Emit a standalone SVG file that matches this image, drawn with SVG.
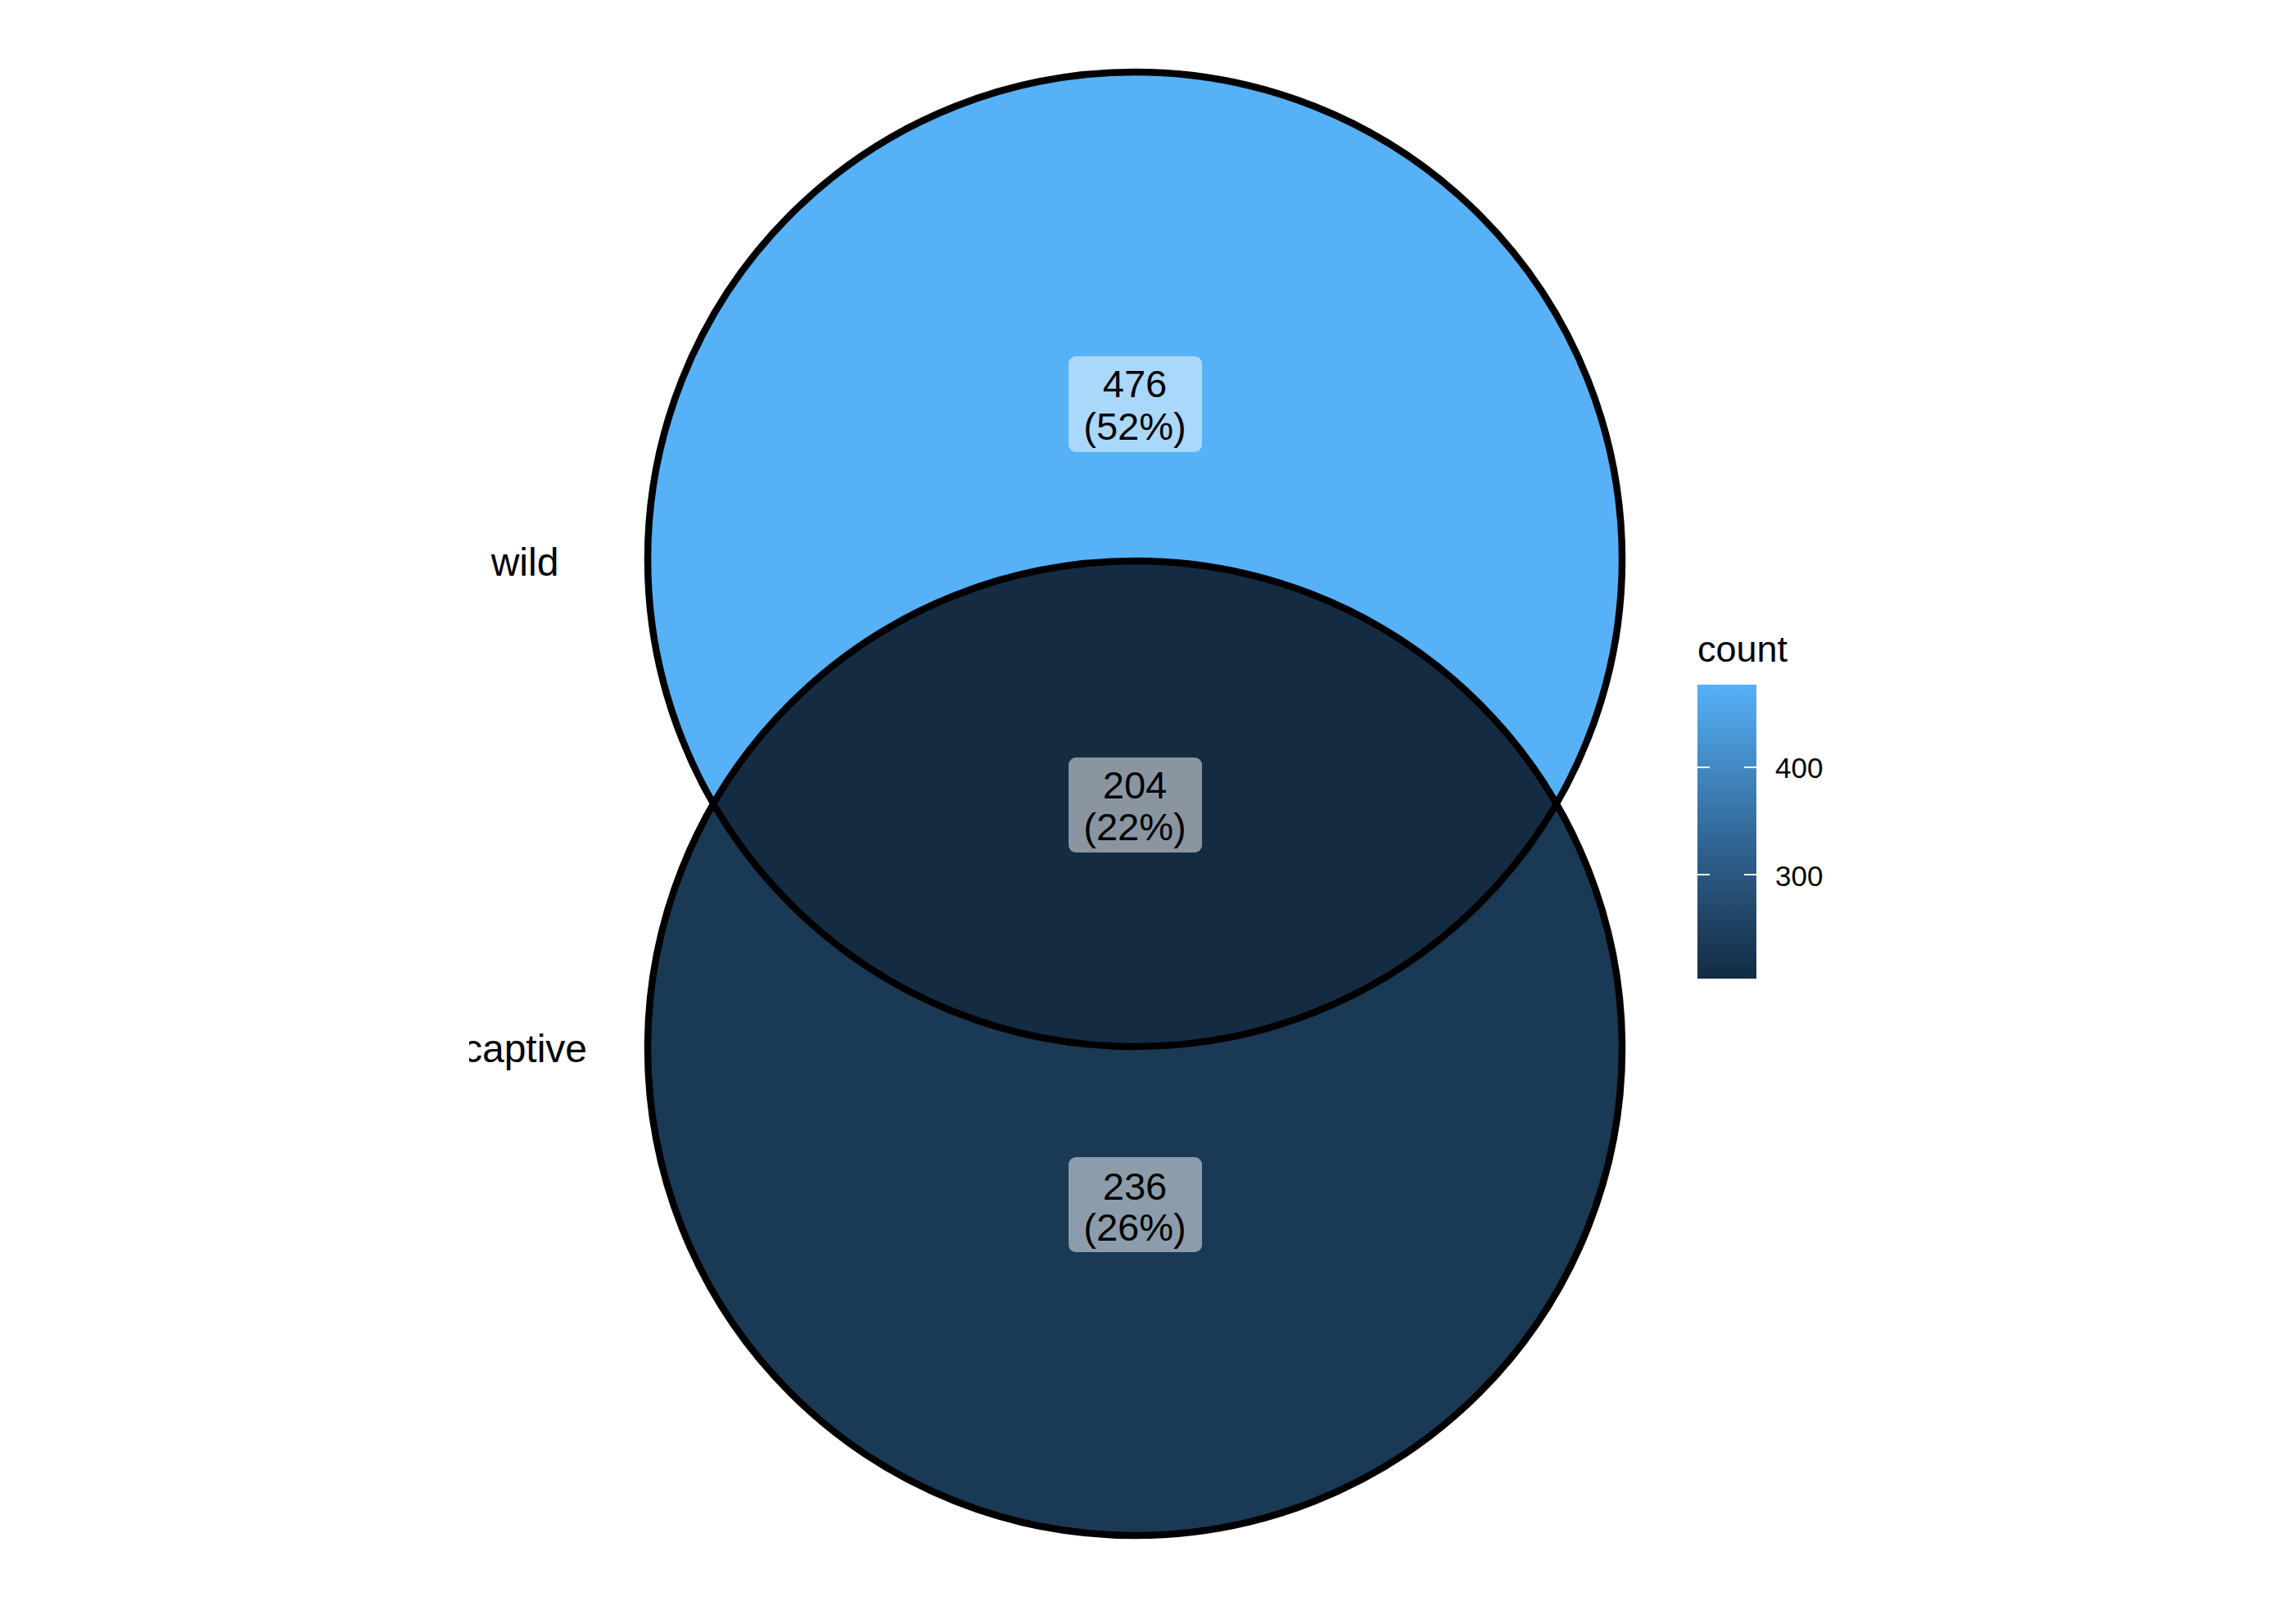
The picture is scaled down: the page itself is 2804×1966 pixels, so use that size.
<svg xmlns="http://www.w3.org/2000/svg" width="2804" height="1966" viewBox="0 0 2804 1966">
<style>
.lbl{font-family:"Liberation Sans",Arial,sans-serif;font-size:47px;fill:#000;text-anchor:middle}
.set{font-family:"Liberation Sans",Arial,sans-serif;font-size:48px;fill:#000;text-anchor:middle}
.leg{font-family:"Liberation Sans",Arial,sans-serif;fill:#000}
.ring{fill:none;stroke:#000;stroke-width:8.5}
.box{stroke:none}
.tick{stroke:#fff;stroke-width:2}
</style>
<defs>
<linearGradient id="cbar" x1="0" y1="0" x2="0" y2="1">
<stop offset="0" stop-color="#56B1F7"/>
<stop offset="0.5" stop-color="#336A9A"/>
<stop offset="1" stop-color="#132B43"/>
</linearGradient>
<clipPath id="panel"><rect x="573" y="0" width="2231" height="1966"/></clipPath>
</defs>
<rect width="2804" height="1966" fill="#fff"/>
<g id="fills">
<circle id="wild-fill" cx="1386" cy="683" r="595" fill="#56B1F7"/>
<circle id="captive-fill" cx="1386" cy="1280" r="595" fill="#1A3955"/>
<path id="overlap-fill" d="M 871.3 981.5 A 595 595 0 0 1 1900.7 981.5 A 595 595 0 0 1 871.3 981.5 Z" fill="#152B42"/>
</g>
<g id="connectors">
<circle class="ring" cx="1386" cy="683" r="595"/>
<circle class="ring" cx="1386" cy="1280" r="595"/>
</g>
<g id="wild-only">
<rect class="box" x="1305" y="435" width="163" height="117" rx="9" fill="#AAD8FB"/>
<text class="lbl" x="1386" y="485">476</text>
<text class="lbl" x="1386" y="537">(52%)</text>
</g>
<g id="both">
<rect class="box" x="1305" y="925" width="163" height="116" rx="9" fill="#8A95A1"/>
<text class="lbl" x="1386" y="975">204</text>
<text class="lbl" x="1386" y="1026">(22%)</text>
</g>
<g id="captive-only">
<rect class="box" x="1305" y="1413" width="163" height="116" rx="9" fill="#8C9CAA"/>
<text class="lbl" x="1386" y="1465">236</text>
<text class="lbl" x="1386" y="1515">(26%)</text>
</g>
<g id="set-labels" clip-path="url(#panel)">
<text class="set" x="641" y="703">wild</text>
<text class="set" x="641" y="1297">captive</text>
</g>
<g id="legend">
<text class="leg" x="2073" y="808" font-size="45">count</text>
<rect x="2073" y="836" width="72" height="359" fill="url(#cbar)"/>
<line class="tick" x1="2073" y1="937" x2="2088" y2="937"/>
<line class="tick" x1="2130" y1="937" x2="2145" y2="937"/>
<line class="tick" x1="2073" y1="1068" x2="2088" y2="1068"/>
<line class="tick" x1="2130" y1="1068" x2="2145" y2="1068"/>
<text class="leg" x="2168" y="950" font-size="35">400</text>
<text class="leg" x="2168" y="1082" font-size="35">300</text>
</g>
</svg>
